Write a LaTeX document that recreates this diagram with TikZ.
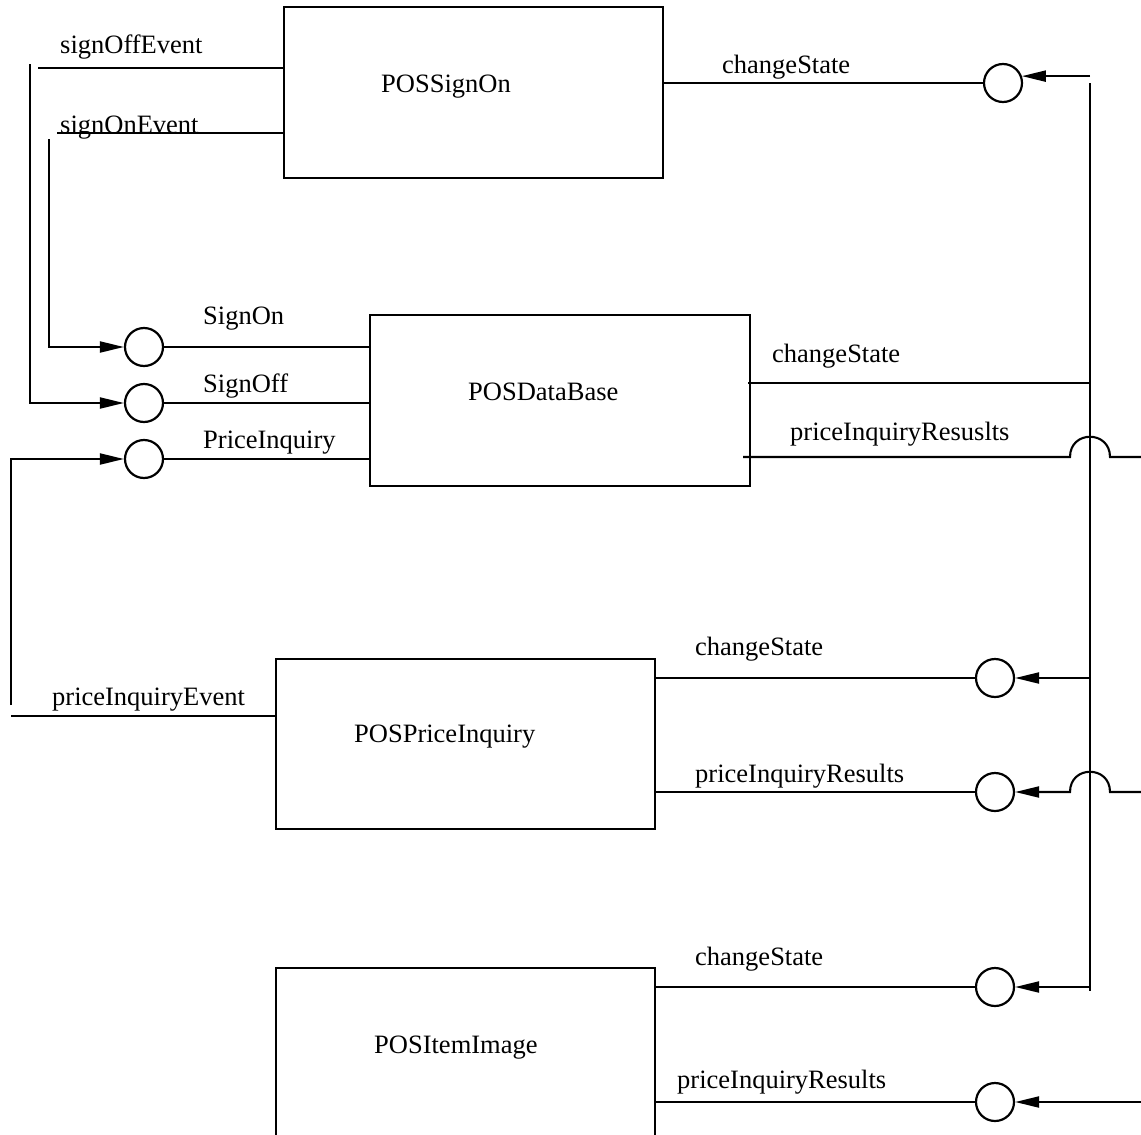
\documentclass[tikz,border=0pt]{standalone}
\usepackage{fontspec}
\setmainfont{Liberation Serif}
\usetikzlibrary{arrows.meta}
\begin{document}
\begin{tikzpicture}[x=1pt,y=-1pt,
  box/.style={draw,line width=2.3pt,rectangle,inner sep=0pt},
  port/.style={draw,line width=2.2pt,circle,minimum size=38pt,inner sep=0pt},
  wire/.style={line width=2.1pt},
  arr/.style={wire,-{Triangle[length=24pt,width=11pt]}},
  lbl/.style={anchor=base west,inner sep=0pt,font=\fontsize{26.5}{30}\selectfont}]
\clip (0,0) rectangle (1141,1135);
\fill[white] (0,0) rectangle (1141,1135);
% boxes
\node[box,minimum width=379pt,minimum height=171pt] (so) at (473.5,92.5) {};
\node[lbl] (soT) at (381,92) {POSSignOn};
\node[box,minimum width=380pt,minimum height=171pt] (db) at (560,400.5) {};
\node[lbl] (dbT) at (468,400) {POSDataBase};
\node[box,minimum width=379pt,minimum height=170pt] (pq) at (465.5,744) {};
\node[lbl] (pqT) at (354,742) {POSPriceInquiry};
\node[box,minimum width=379pt,minimum height=171pt] (ii) at (465.5,1053.5) {};
\node[lbl] (iiT) at (374,1053) {POSItemImage};
% ports
\node[port] (sOn) at (144,347) {};
\node[port] (sOff) at (144,403) {};
\node[port] (pI) at (144,459) {};
\node[port] (c1) at (1003,83) {};
\node[port] (c2) at (995,678) {};
\node[port] (c3) at (995,792) {};
\node[port] (c4) at (995,987) {};
\node[port] (c5) at (995,1102) {};
% labels
\node[lbl] (l1) at (60,53) {signOffEvent};
\node[lbl] (l2) at (60,133) {signOnEvent};
\node[lbl] (l3) at (203,324) {SignOn};
\node[lbl] (l4) at (203,392) {SignOff};
\node[lbl] (l5) at (203,448) {PriceInquiry};
\node[lbl] (l6) at (52,705) {priceInquiryEvent};
\node[lbl] (l7) at (722,73) {changeState};
\node[lbl] (l8) at (772,362) {changeState};
\node[lbl] (l9) at (790,440) {priceInquiryResuslts};
\node[lbl] (l10) at (695,655) {changeState};
\node[lbl] (l11) at (695,782) {priceInquiryResults};
\node[lbl] (l12) at (695,965) {changeState};
\node[lbl] (l13) at (677,1088) {priceInquiryResults};
% coordinates
\coordinate (vOff) at (30,64);
\coordinate (vOn) at (49,139);
\coordinate (hOff) at (38,68);
\coordinate (hOn) at (57,133);
\coordinate (vPI) at (11,705);
\coordinate (hPI) at (11,716);
\coordinate (busT) at (1090,83);
\coordinate (busB) at (1090,991);
\coordinate (dbCS) at (748,383);
\coordinate (dbPR) at (743,457);
\coordinate (j1a) at (1070,457);
\coordinate (j1b) at (1110,457);
\coordinate (e1) at (1141,457);
\coordinate (j3a) at (1070,792);
\coordinate (j3b) at (1110,792);
\coordinate (e3) at (1141,792);
\coordinate (e5) at (1141,1102);
% left wiring
\draw[wire] (hOff) -- (hOff -| so.west);
\draw[wire] (hOn) -- (hOn -| so.west);
\draw[arr] (vOff) |- (sOff);
\draw[arr] (vOn) |- (sOn);
\draw[arr] (vPI) |- (pI);
\draw[wire] (hPI) -- (hPI -| pq.west);
\draw[wire] (sOn) -- (sOn -| db.west);
\draw[wire] (sOff) -- (sOff -| db.west);
\draw[wire] (pI) -- (pI -| db.west);
% right wiring
\draw[wire] (busT) -- (busB);
\draw[wire] (c1) -- (c1 -| so.east);
\draw[arr] (c1.20 -| busT) -- (c1.20);
\draw[wire] (dbCS) -- (dbCS -| busT);
\draw[wire] (dbPR) -- (j1a) .. controls +(0,-27) and +(0,-27) .. (j1b) -- (e1);
\draw[wire] (c2) -- (c2 -| pq.east);
\draw[arr] (c2 -| busT) -- (c2);
\draw[wire] (c3) -- (c3 -| pq.east);
\draw[arr] (e3) -- (j3b) .. controls +(0,-27) and +(0,-27) .. (j3a) -- (c3);
\draw[wire] (c4) -- (c4 -| ii.east);
\draw[arr] (c4 -| busT) -- (c4);
\draw[wire] (c5) -- (c5 -| ii.east);
\draw[arr] (e5) -- (c5);
\end{tikzpicture}
\end{document}
